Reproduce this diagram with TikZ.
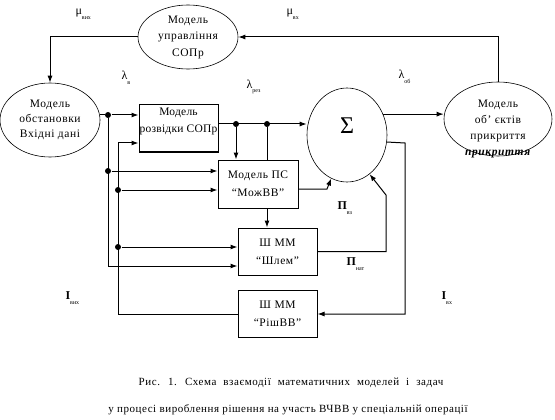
\documentclass[tikz,border=0pt]{standalone}
\usepackage{fontspec}
\setmainfont[LetterSpace=5]{Liberation Serif}
\newfontfamily\plainfont{Liberation Serif}
\newfontfamily\tightfont[LetterSpace=2]{Liberation Serif}
\usetikzlibrary{arrows.meta,shapes.geometric,calc}
\newcommand{\sublab}[2]{#1\raisebox{-4.5pt}{\fontsize{6}{6}\selectfont #2}}
\begin{document}
\begin{tikzpicture}[x=1pt,y=-1pt,line width=1pt,
  >={Latex[length=7pt,width=5pt]},
  txt/.style={font=\fontsize{11.5}{16}\selectfont, align=center, inner sep=0pt},
  box/.style={draw, minimum width=79pt, minimum height=47pt, inner sep=0pt, align=center, font=\fontsize{11.5}{18}\selectfont},
  ell/.style={draw, ellipse, line width=0.6pt, inner sep=0pt, align=center, font=\fontsize{11.5}{16.5}\selectfont},
  dot/.style={circle, fill, inner sep=0pt, minimum size=6pt},
  lab/.style={font=\plainfont\fontsize{12}{12}\selectfont, anchor=west, inner sep=0pt}]
\useasboundingbox (0,0) rectangle (555,420);
% ellipses
\node[ell, minimum width=100pt, minimum height=64pt] (upr) at (188,37) {Модель\\управління\\СОПр};
\node[ell, minimum width=100pt, minimum height=74pt, font=\fontsize{11.5}{15}\selectfont] (obst) at (50,120) {Модель\\обстановки\\Вхідні дані};
\node[ell, minimum width=108pt, minimum height=74pt] (obj) at (498,119) {};
\node[txt] (objt) at (498,129) {Модель\\об’ єктів\\прикриття\\\textbf{\textit{прикриття}}};
\node[draw, ellipse, line width=0.6pt, minimum width=80pt, minimum height=94pt, inner sep=0pt] (sig) at (347,135) {};
\node[font=\plainfont\fontsize{24}{24}\selectfont, inner sep=0pt] (sigt) at (347,126) {Σ};
% boxes
\node[box] (rozv) at (178.5,128.5) {};
\node[txt, font=\tightfont\fontsize{11.5}{17}\selectfont] (rozvt) at (178.5,121) {Модель\\розвідки СОПр};
\node[box, minimum width=80pt, minimum height=48pt] (mozh) at (258,184) {Модель ПС\\“МожВВ”};
\node[box] (shlem) at (277.5,251.5) {Ш ММ\\“Шлем”};
\node[box] (rish) at (277.5,314) {Ш ММ\\“РішВВ”};
% junctions
\node[dot] (j1) at (108,115) {};
\node[dot] (j2) at (108,171) {};
\node[dot] (j3) at (118,190) {};
\node[dot] (j4) at (118,247) {};
\node[dot] (j5) at (236,124) {};
\node[dot] (j6) at (267,124) {};
\coordinate (k0) at (118,143);
\coordinate (k1) at (108,266);
\coordinate (k2) at (327,189);
\coordinate (k3) at (386,195);
\coordinate (k4) at (405,143);
% connectors
\draw[->] (obj.north) |- (upr.east);
\draw[->] (upr.west) -| (obst.north);
\draw[->] (obst.east |- j1) -- (j1) -- (rozv.west |- j1);
\draw[->] (j1) |- (shlem.west |- k1);
\draw[->] (j2) -- (mozh.west |- j2);
\draw[->] (rish.west) -| (k0) -- (rozv.west |- k0);
\draw[->] (j3) -- (mozh.west |- j3);
\draw[->] (j4) -- (shlem.west |- j4);
\draw[->] (rozv.east |- j5) -- (sig.west |- j5);
\draw[->] (j5) -- (mozh.north -| j5);
\draw (j6) -- (mozh.north -| j6);
\draw[->] (mozh.south -| j6) -- (shlem.north -| j6);
\draw[->] (mozh.east |- k2) -- (k2) -- (sig.250);
\draw[->] (shlem.east) -| (k3) -- (sig.300);
\draw[->] (sig.-10) -- (k4) |- (rish.east);
\draw[->] (sig.30) -- (sig.30 -| obj.west);
% labels
\node[lab] (mu1) at (75,14) {\sublab{μ}{вих}};
\node[lab] (mu2) at (286,14) {\sublab{μ}{вх}};
\node[lab] (l1) at (121,78) {\sublab{λ}{в}};
\node[lab] (l2) at (246,87) {\sublab{λ}{рез}};
\node[lab] (l3) at (398,77) {\sublab{λ}{об}};
\node[lab] (p1) at (337,208) {\sublab{\textbf{Π}}{вз}};
\node[lab] (p2) at (346,264) {\sublab{\textbf{Π}}{нат}};
\node[lab] (i1) at (65,298) {\sublab{\textbf{I}}{вих}};
\node[lab] (i2) at (441,298) {\sublab{\textbf{I}}{вх}};
% caption
\node[txt, font=\fontsize{11}{12}\selectfont] (cap1) at (291,383) {\spaceskip=7pt Рис. 1. Схема взаємодії математичних моделей і задач};
\node[txt, font=\fontsize{11}{12}\selectfont] (cap2) at (288,410) {у процесі вироблення рішення на участь ВЧВВ у спеціальній операції};
\end{tikzpicture}
\end{document}
